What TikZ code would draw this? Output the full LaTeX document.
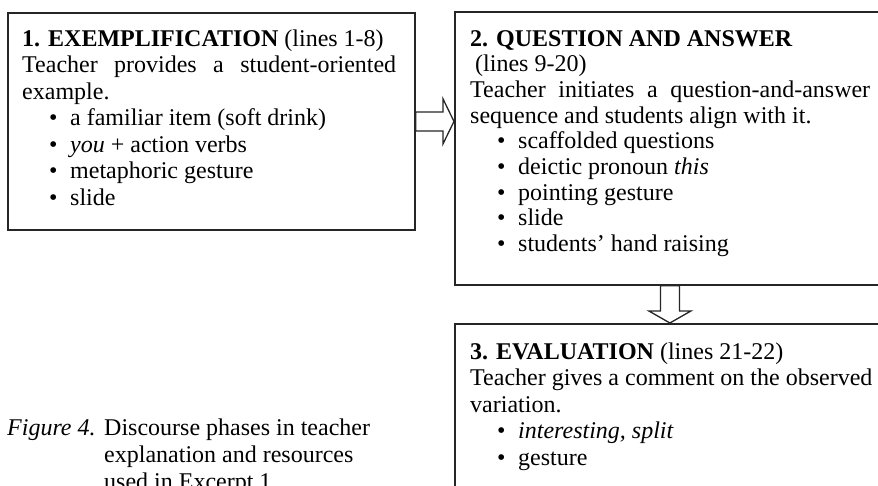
\documentclass[tikz,border=0pt]{standalone}
\usepackage{fontspec}
\setmainfont{Liberation Serif}
\usetikzlibrary{calc}
\tikzset{
  box/.style={draw=black!85, line width=1.8pt, rectangle, inner sep=0pt, anchor=north west},
  txt/.style={anchor=base west, inner sep=0pt, font=\fontsize{24}{26.5}\selectfont},
  blockarrow/.style={draw=black!85, line width=1.3pt, fill=white, line join=miter},
}
\newcommand{\itemA}[1]{\hspace*{27pt}\makebox[21pt][l]{\textbullet}#1}
\begin{document}
\begin{tikzpicture}[x=1pt,y=-1pt]
\useasboundingbox (0,0) rectangle (878,485);
\clip (0,0) rectangle (878,485);
\fill[white] (0,0) rectangle (878,485);
% boxes
\node[box, minimum width=407pt, minimum height=217pt] (b1) at (7,12) {};
\node[box, minimum width=430pt, minimum height=273pt] (b2) at (454,11) {};
\node[box, minimum width=430pt, minimum height=200pt] (b3) at (454,323) {};
% texts
\node[txt] (t1) at (22,46) {\parbox[t]{380pt}{%
\textbf{1. EXEMPLIFICATION} (lines 1-8)\\
\makebox[374pt][s]{Teacher provides a student-oriented}\\
example.\\
\itemA{a familiar item (soft drink)}\\
\itemA{\textit{you} + action verbs}\\
\itemA{metaphoric gesture}\\
\itemA{slide}}};
\node[txt, font=\fontsize{24}{25.7}\selectfont] (t2) at (470,46) {\parbox[t]{410pt}{%
\textbf{2. QUESTION AND ANSWER}\\
\hspace*{5pt}(lines 9-20)\\
\makebox[400pt][s]{Teacher initiates a question-and-answer}\\
sequence and students align with it.\\
\itemA{scaffolded questions}\\
\itemA{deictic pronoun \textit{this}}\\
\itemA{pointing gesture}\\
\itemA{slide}\\
\itemA{students’ hand raising}}};
\node[txt] (t3) at (470,359) {\parbox[t]{410pt}{%
\textbf{3. EVALUATION} (lines 21-22)\\
Teacher gives a comment on the observed\\
variation.\\
\itemA{\textit{interesting, split}}\\
\itemA{gesture}}};
\node[txt, font=\fontsize{24}{27}\selectfont] (cap) at (7,435) {\parbox[t]{420pt}{%
\makebox[97pt][l]{\textit{Figure 4.}}Discourse phases in teacher\\
\hspace*{97pt}explanation and resources\\
\hspace*{97pt}used in Excerpt 1}};
% block arrows
\coordinate (tipR) at (b2.west |- b1.east);
\draw[blockarrow] ($(b1.east)+(0,-9.5)$) -- ($(tipR)+(-11,-9.5)$) -- ($(tipR)+(-11,-22.5)$)
  -- (tipR) -- ($(tipR)+(-11,22.5)$) -- ($(tipR)+(-11,9.5)$) -- ($(b1.east)+(0,9.5)$) -- cycle;
\coordinate (tipD) at (b2.south |- b3.north);
\draw[blockarrow] ($(b2.south)+(-9.5,0)$) -- ($(tipD)+(-9.5,-12)$) -- ($(tipD)+(-21,-12)$)
  -- (tipD) -- ($(tipD)+(21,-12)$) -- ($(tipD)+(9.5,-12)$) -- ($(b2.south)+(9.5,0)$) -- cycle;
\end{tikzpicture}
\end{document}
